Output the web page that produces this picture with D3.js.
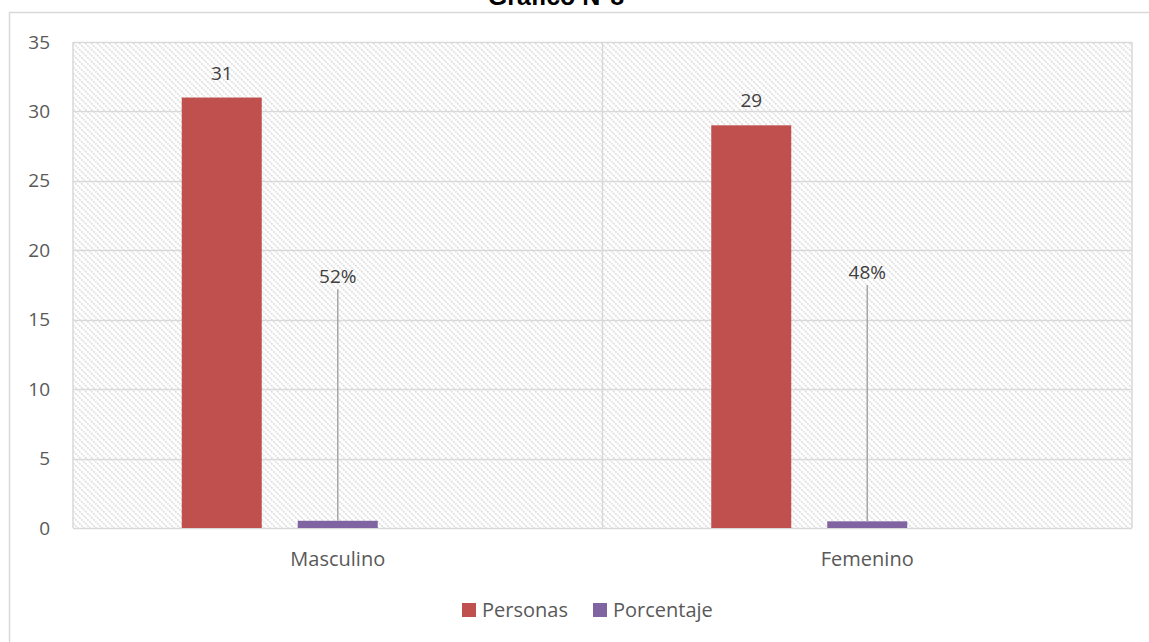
<!DOCTYPE html>
<html><head><meta charset="utf-8">
<script src="https://cdn.jsdelivr.net/npm/d3@7"></script>
<style>body{margin:0;background:#fff;}svg{display:block;font-family:"Open Sans",sans-serif;}</style>
</head><body><svg id="c" width="1149" height="642"></svg>
<script>
const categories = ["Masculino", "Femenino"];
const personas = [31, 29];
const porcentaje = [0.52, 0.48];
const porcentajeLabels = ["52%", "48%"];
const seriesNames = ["Personas", "Porcentaje", ""];
const yTicks = [0, 5, 10, 15, 20, 25, 30, 35];
const colors = {Personas: "#c0504d", Porcentaje: "#8064a2"};

const svg = d3.select("#c");
const m = {l: 73, r: 1132, t: 42, b: 528};

const defs = svg.append("defs");
const pat = defs.append("pattern").attr("id", "hatch").attr("patternUnits", "userSpaceOnUse")
  .attr("width", 6).attr("height", 6);
pat.append("rect").attr("width", 6).attr("height", 6).attr("fill", "#fff");
pat.append("path").attr("d", "M-1,-1 L7,7 M-1,5 L1,7 M5,-1 L7,1").attr("stroke", "#dcdcdc").attr("stroke-width", 1.6)
  .attr("stroke-dasharray", "2,1");

// outer chart border
svg.append("rect").attr("x", 9.5).attr("y", 12.5).attr("width", 1200).attr("height", 700)
  .attr("fill", "none").attr("stroke", "#d9d9d9").attr("stroke-width", 1.5);

// title (partially cut off, as in the reference)
svg.append("text").attr("x", 556).attr("y", 5).attr("text-anchor", "middle")
  .attr("font-family", "Liberation Sans, Arial, sans-serif").attr("font-weight", "bold")
  .attr("font-size", 25).attr("fill", "#000").text("Gráfico N°8");

const x = d3.scaleBand().domain(categories).range([m.l, m.r]);
const y = d3.scaleLinear().domain([0, 35]).range([m.b, m.t]);
const step = 116;
const inner = d3.scaleBand().domain(seriesNames).range([-(step*1.5), step*1.5]).paddingInner(36/116).paddingOuter(18/116);

svg.append("rect").attr("x", m.l).attr("y", m.t).attr("width", m.r - m.l).attr("height", m.b - m.t)
  .attr("fill", "url(#hatch)");

// gridlines
svg.append("g").selectAll("line").data(yTicks.filter(d => d > 0)).join("line")
  .attr("x1", m.l).attr("x2", m.r).attr("y1", d => Math.round(y(d)) + 0.5).attr("y2", d => Math.round(y(d)) + 0.5)
  .attr("stroke", "#d9d9d9").attr("stroke-width", 1.5);
svg.append("g").selectAll("line").data([m.l, x(categories[1]), m.r]).join("line")
  .attr("x1", d => d).attr("x2", d => d).attr("y1", m.t).attr("y2", m.b)
  .attr("stroke", "#d9d9d9").attr("stroke-width", 1.5);
svg.append("line").attr("x1", m.l).attr("x2", m.r).attr("y1", m.b + 0.5).attr("y2", m.b + 0.5)
  .attr("stroke", "#d9d9d9").attr("stroke-width", 1.5);

// y axis labels
const yAxis = d3.axisLeft(y).tickValues(yTicks).tickSize(0).tickPadding(0);
const ya = svg.append("g").attr("transform", `translate(50,0)`).call(yAxis);
ya.select(".domain").remove();
ya.selectAll("text").attr("font-size", 19).attr("fill", "#595959").attr("font-family", "Open Sans, sans-serif");

// x axis labels
const xAxis = d3.axisBottom(x).tickSize(0).tickPadding(0);
const xa = svg.append("g").attr("transform", `translate(0,552)`).call(xAxis);
xa.select(".domain").remove();
xa.selectAll("text").attr("font-size", 20).attr("fill", "#595959").attr("font-family", "Open Sans, sans-serif");

const cx = c => x(c) + x.bandwidth() / 2;

// Personas bars
svg.append("g").selectAll("rect").data(categories).join("rect")
  .attr("x", (c) => cx(c) + inner("Personas")).attr("width", inner.bandwidth())
  .attr("y", (c, i) => y(personas[i])).attr("height", (c, i) => y(0) - y(personas[i]))
  .attr("fill", colors.Personas);
// Porcentaje bars
svg.append("g").selectAll("rect").data(categories).join("rect")
  .attr("x", (c) => cx(c) + inner("Porcentaje")).attr("width", inner.bandwidth())
  .attr("y", (c, i) => y(porcentaje[i])).attr("height", (c, i) => y(0) - y(porcentaje[i]))
  .attr("fill", colors.Porcentaje);

// Personas labels
svg.append("g").selectAll("text").data(categories).join("text")
  .attr("x", c => cx(c) + inner("Personas") + inner.bandwidth() / 2)
  .attr("y", (c, i) => y(personas[i]) - 18)
  .attr("text-anchor", "middle").attr("font-size", 19).attr("fill", "#404040")
  .text((c, i) => personas[i]);

// Porcentaje callout labels with leader lines
const pctLabelY = [17.2, 17.5];
svg.append("g").selectAll("line").data(categories).join("line")
  .attr("x1", c => cx(c) + inner("Porcentaje") + inner.bandwidth() / 2)
  .attr("x2", c => cx(c) + inner("Porcentaje") + inner.bandwidth() / 2)
  .attr("y1", (c, i) => y(pctLabelY[i]))
  .attr("y2", (c, i) => y(porcentaje[i]))
  .attr("stroke", "#a6a6a6").attr("stroke-width", 1.5);
svg.append("g").selectAll("text").data(categories).join("text")
  .attr("x", c => cx(c) + inner("Porcentaje") + inner.bandwidth() / 2)
  .attr("y", (c, i) => y(pctLabelY[i]) - 6)
  .attr("text-anchor", "middle").attr("font-size", 19).attr("fill", "#404040")
  .text((c, i) => porcentajeLabels[i]);

// legend
const leg = svg.append("g");
const legItems = [{n: "Personas", x: 462}, {n: "Porcentaje", x: 593}];
legItems.forEach(d => {
  leg.append("rect").attr("x", d.x).attr("y", 603).attr("width", 14).attr("height", 14).attr("fill", colors[d.n]);
  leg.append("text").attr("x", d.x + 20).attr("y", 617).attr("font-size", 20).attr("fill", "#595959").text(d.n);
});
</script></body></html>
